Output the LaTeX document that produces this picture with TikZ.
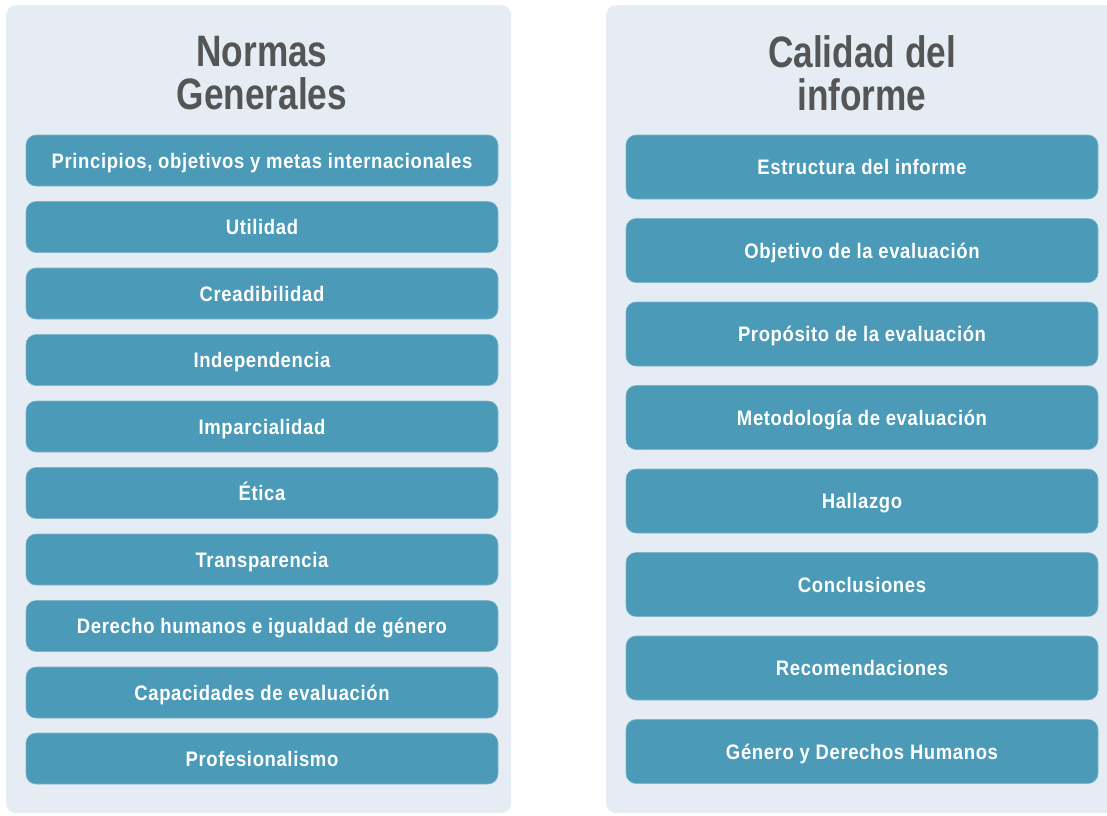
\documentclass[tikz,border=0pt]{standalone}
\usepackage{fontspec}
\newfontfamily\cond{Liberation Sans}[FakeStretch=0.8]
\newfontfamily\condsp{Liberation Sans}[FakeStretch=0.88, LetterSpace=3]
\definecolor{panelbg}{HTML}{E5ECF4}
\definecolor{boxbg}{HTML}{4A9AB8}
\definecolor{boxedge}{HTML}{7FB6CC}
\definecolor{titlecol}{HTML}{555555}
\tikzset{
  panel/.style={fill=panelbg, draw=none, rounded corners=10pt},
  itembox/.style={fill=boxbg, draw=boxedge, line width=0.6pt, rounded corners=10pt, minimum width=472pt, text=white, font=\condsp\bfseries\fontsize{21}{24}\selectfont, inner sep=0pt, text height=15pt, text depth=0pt},
  lbox/.style={itembox, minimum height=51pt},
  rbox/.style={itembox, minimum height=64pt},
  ptitle/.style={text=titlecol, font=\cond\bfseries\fontsize{44}{43}\selectfont, align=center, inner sep=0pt}
}
\begin{document}
\begin{tikzpicture}[x=1pt,y=-1pt]
\useasboundingbox (0,0) rectangle (1107,815);
\fill[white] (0,0) rectangle (1107,815);
\node[panel, minimum width=505pt, minimum height=808pt, anchor=north west] (pl) at (6,5) {};
\node[panel, minimum width=515pt, minimum height=808pt, anchor=north west] (pr) at (606,5) {};
\node[ptitle] (tl) at (262,73) {Normas\\Generales};
\node[ptitle] (tr) at (862,73) {Calidad del\\informe};
% left column
\node[lbox] (l1) at (262,160.5) {Principios, objetivos y metas internacionales};
\node[lbox] (l2) at (262,227) {Utilidad};
\node[lbox] (l3) at (262,293.5) {Creadibilidad};
\node[lbox] (l4) at (262,360) {Independencia};
\node[lbox] (l5) at (262,426.5) {Imparcialidad};
\node[lbox] (l6) at (262,493) {Ética};
\node[lbox] (l7) at (262,559.5) {Transparencia};
\node[lbox] (l8) at (262,626) {Derecho humanos e igualdad de género};
\node[lbox] (l9) at (262,692.5) {Capacidades de evaluación};
\node[lbox] (l10) at (262,758.5) {Profesionalismo};
% right column
\node[rbox] (r1) at (862,167) {Estructura del informe};
\node[rbox] (r2) at (862,250.5) {Objetivo de la evaluación};
\node[rbox] (r3) at (862,334) {Propósito de la evaluación};
\node[rbox] (r4) at (862,417.5) {Metodología de evaluación};
\node[rbox] (r5) at (862,501) {Hallazgo};
\node[rbox] (r6) at (862,584.5) {Conclusiones};
\node[rbox] (r7) at (862,668) {Recomendaciones};
\node[rbox] (r8) at (862,751.5) {Género y Derechos Humanos};
\end{tikzpicture}
\end{document}
